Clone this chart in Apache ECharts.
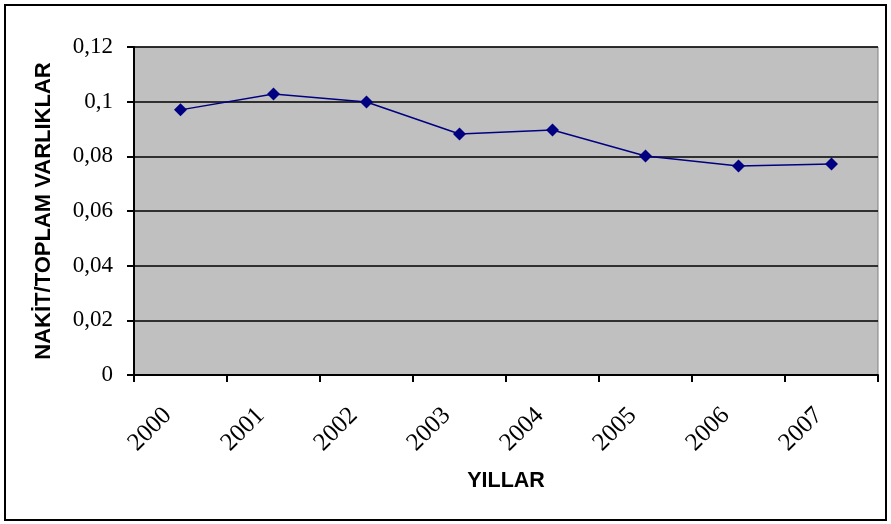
<!DOCTYPE html>
<html>
<head>
<meta charset="utf-8">
<script src="https://cdn.jsdelivr.net/npm/echarts@6/dist/echarts.min.js"></script>
<style>
  html, body { margin: 0; padding: 0; background: #fff; }
  #chart { width: 891px; height: 524px; }
</style>
</head>
<body>
<div id="chart"></div>
<script>
  var years = ['2000', '2001', '2002', '2003', '2004', '2005', '2006', '2007'];
  var cashRatio = [0.097, 0.1028, 0.0999, 0.0882, 0.0896, 0.0801, 0.0765, 0.0772];

  var chart = echarts.init(document.getElementById('chart'));

  chart.setOption({
    animation: false,
    graphic: [{
      type: 'rect',
      shape: { x: 5, y: 5, width: 881, height: 515 },
      style: { fill: 'none', stroke: '#000', lineWidth: 2 },
      silent: true
    }],
    grid: {
      left: 134, right: 13, top: 47, bottom: 149,
      show: true,
      backgroundColor: '#c0c0c0',
      borderColor: '#808080',
      borderWidth: 1
    },
    xAxis: {
      type: 'category',
      data: years,
      boundaryGap: true,
      name: 'YILLAR',
      nameLocation: 'middle',
      nameGap: 95,
      nameTextStyle: { fontFamily: 'Liberation Sans', fontWeight: 'bold', fontSize: 21.5, color: '#000' },
      axisLine: { lineStyle: { color: '#000', width: 2 } },
      axisTick: { show: true, length: 7, alignWithLabel: false, lineStyle: { color: '#000', width: 2 } },
      axisLabel: {
        rotate: 45,
        margin: 24,
        padding: [0, 18, 0, 0],
        fontFamily: 'Liberation Serif',
        fontSize: 25,
        color: '#000'
      }
    },
    yAxis: {
      type: 'value',
      min: 0, max: 0.12, interval: 0.02,
      name: 'NAKİT/TOPLAM VARLIKLAR',
      nameLocation: 'middle',
      nameGap: 79,
      nameTextStyle: { fontFamily: 'Liberation Sans', fontWeight: 'bold', fontSize: 22, color: '#000' },
      axisLine: { show: true, lineStyle: { color: '#000', width: 2 } },
      axisTick: { show: true, length: 7, lineStyle: { color: '#000', width: 2 } },
      splitLine: { show: true, lineStyle: { color: '#000', width: 1.5 } },
      axisLabel: {
        margin: 21,
        fontFamily: 'Liberation Serif',
        fontSize: 23,
        color: '#000',
        formatter: function (v) {
          return String(Math.round(v * 100) / 100).replace('.', ',');
        }
      }
    },
    series: [{
      type: 'line',
      data: cashRatio,
      symbol: 'diamond',
      symbolSize: 13,
      lineStyle: { color: '#000080', width: 1.5 },
      itemStyle: { color: '#000080' }
    }]
  });
</script>
</body>
</html>
